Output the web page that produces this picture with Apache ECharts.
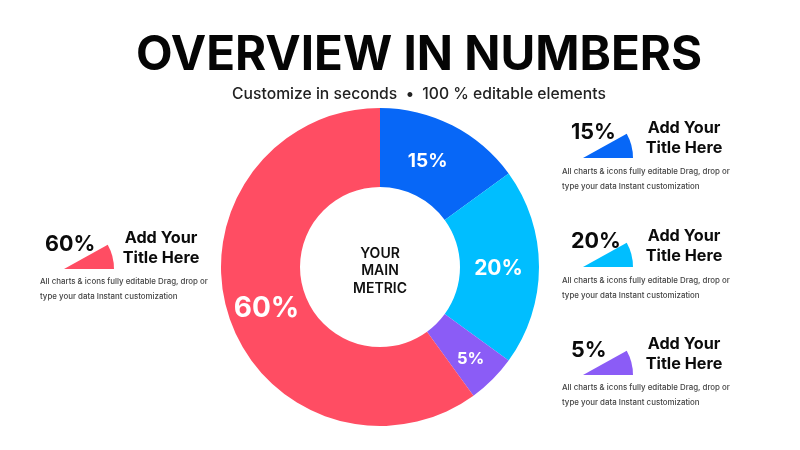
<!DOCTYPE html>
<html><head><meta charset="utf-8">
<style>html,body{margin:0;padding:0;background:#fff}#c{width:800px;height:450px}</style>
<script src="https://cdn.jsdelivr.net/npm/echarts@6/dist/echarts.min.js"></script>
</head><body><div id="c"></div>
<script>
const categories = ['15%','20%','5%','60%'];
const values = [15,20,5,60];
const colors = ['#0767F7','#00BEFF','#8B5CF6','#FF4D63'];
const titleText = 'OVERVIEW IN NUMBERS';
const subtitleText = 'Customize in seconds  \u2022  100 % editable elements';
const centerText = 'YOUR\nMAIN\nMETRIC';
const calloutTitle = 'Add Your\nTitle Here';
const calloutBody = 'All charts & icons fully editable Drag, drop or\ntype your data Instant customization';
const labelSizes = [19,21,16.5,28];
const labelOffsets = [[-8,3],[-4,2],[4,5],[3,4]];
const FF = 'Inter, "Noto Sans", sans-serif';

const chart = echarts.init(document.getElementById('c'), null, {renderer:'canvas'});

function callout(i, x, yPct, xTitle, yTitle, apexX, apexY, xBody, yBody) {
  return [
    {type:'sector',silent:true,shape:{cx:apexX,cy:apexY,r:50,r0:0,startAngle:-29*Math.PI/180,endAngle:0,clockwise:true},style:{fill:colors[i]}},
    {type:'text',style:{x:x,y:yPct,text:categories[i],font:'700 21.5px '+FF,fill:'#0b0b0b',textAlign:'left',textVerticalAlign:'middle'}},
    {type:'text',style:{x:xTitle,y:yTitle,text:calloutTitle,font:'700 16.2px '+FF,lineHeight:20,fill:'#0b0b0b',textAlign:'center',textVerticalAlign:'middle'}},
    {type:'text',style:{x:xBody,y:yBody,text:calloutBody,font:'500 7.9px '+FF,lineHeight:15,fill:'#444',textAlign:'left',textVerticalAlign:'middle'}}
  ];
}

chart.setOption({
  animation:false,
  backgroundColor:'#fff',
  title:[
    {text:titleText,left:414,top:27,textAlign:'center',textStyle:{fontFamily:FF,fontSize:47.5,fontWeight:700,color:'#050505'}},
    {text:subtitleText,left:414,top:81,textAlign:'center',textStyle:{fontFamily:FF,fontSize:15.7,fontWeight:500,color:'#222'}}
  ],
  series:[{
    type:'pie',
    center:[380,267],
    radius:[80,159],
    startAngle:90,
    clockwise:true,
    silent:true,
    label:{position:'inside',color:'#fff',fontFamily:FF,fontWeight:700,formatter:p=>p.name},
    labelLine:{show:false},
    data:categories.map((c,i)=>({name:c,value:values[i],
      itemStyle:{color:colors[i]},
      label:{fontSize:labelSizes[i],offset:labelOffsets[i]}}))
  }],
  graphic:{elements:[
    {type:'text',style:{x:380,y:271,text:centerText,font:'600 14px '+FF,lineHeight:17.5,fill:'#111',textAlign:'center',textVerticalAlign:'middle'}},
    ...callout(0,571,133,684,138,583,158,562,179),
    ...callout(1,571,242,684,246,583,267,562,288),
    ...callout(2,571,351,684,354,583,375,562,395),
    ...callout(3,45,245,161,248,64,269,40,289)
  ]}
});
</script></body></html>
